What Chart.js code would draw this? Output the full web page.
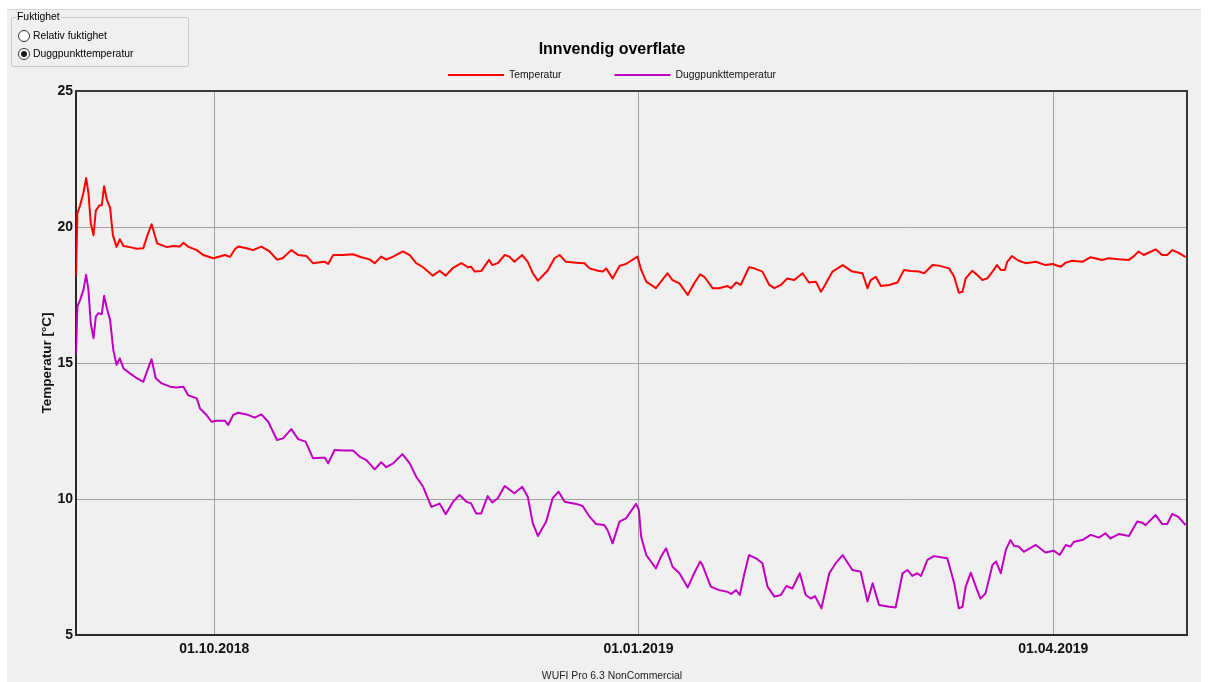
<!DOCTYPE html>
<html>
<head>
<meta charset="utf-8">
<title>Innvendig overflate</title>
<script src="https://cdn.jsdelivr.net/npm/chart.js@4.4.1/dist/chart.umd.min.js"></script>
<style>
  html, body { margin: 0; padding: 0; width: 1209px; height: 682px; overflow: hidden; background: #ffffff;
    font-family: "Liberation Sans", Arial, sans-serif; }
  #form { position: absolute; left: 7px; top: 9px; width: 1194px; height: 673px; background: #f0f0f0;
    border-top: 1px solid #d4d4d4; box-sizing: border-box; }
  #chart { position: absolute; left: 0; top: 0; }
  .group { position: absolute; left: 11px; top: 17px; width: 178px; height: 50px; box-sizing: border-box;
    border: 1px solid #c6c6c6; border-radius: 2px; }
  .caption { position: absolute; left: 16px; top: 11px; padding: 0 1px; background: #f0f0f0;
    font-size: 10.4px; line-height: 12px; color: #000; }
  .radio { position: absolute; left: 18px; width: 12px; height: 12px; box-sizing: border-box;
    border: 1px solid #333; border-radius: 50%; background: #fff; }
  .radio.on::after { content: ""; position: absolute; left: 2px; top: 2px; width: 6px; height: 6px;
    border-radius: 50%; background: #1a1a1a; }
  .rlabel { position: absolute; left: 33px; font-size: 10.4px; line-height: 12px; color: #000; }
  .footer { position: absolute; left: 412px; top: 670px; width: 400px; text-align: center;
    font-size: 10.4px; line-height: 12px; color: #222; }
</style>
</head>
<body>
<div id="form"></div>
<canvas id="chart" width="1209" height="682"></canvas>

<div class="group"></div>
<div class="caption">Fuktighet</div>
<div class="radio" style="top:30px"></div>
<div class="rlabel" style="top:30px">Relativ fuktighet</div>
<div class="radio on" style="top:48px"></div>
<div class="rlabel" style="top:48px">Duggpunkttemperatur</div>
<div class="footer">WUFI Pro 6.3 NonCommercial</div>

<script>
// Days counted from 01.09.2018
const tickDays = [30, 122, 212];
const tickLabels = ['01.10.2018', '01.01.2019', '01.04.2019'];
const yTicks = [5, 10, 15, 20, 25];
const seriesNames = ['Temperatur', 'Duggpunkttemperatur'];
const seriesColors = ['#ff0000', '#c000c0'];

const tempDays = [
  0, 0.3, 0.9, 1.6, 2.2, 2.7, 3.2, 3.8, 4.3, 5.1,
  5.6, 6.1, 6.7, 7.4, 8.0, 8.8, 9.5, 10.3, 11.7, 13.2,
  14.6, 15.5, 16.4, 17.1, 17.6, 19.7, 21.1, 22.5, 23.3, 24.3,
  26.2, 27.6, 29.8, 32.3, 33.4, 34.5, 35.2, 37.0, 38.4, 40.2,
  42.0, 43.6, 44.8, 46.7, 48.2, 50.0, 51.4, 52.9, 54.0, 54.7,
  55.8, 57.9, 60.1, 61.9, 63.7, 64.8, 66.2, 67.3, 68.8, 70.9,
  72.4, 73.8, 75.3, 77.4, 78.9, 80.2, 81.8, 83.6, 85.0, 85.7,
  86.5, 87.9, 89.6, 90.3, 91.5, 93.0, 94.0, 95.1, 96.8, 98.0,
  99.1, 100.2, 102.3, 103.8, 104.9, 106.3, 108.5, 110.3, 111.4, 113.2,
  114.3, 115.0, 116.4, 117.9, 119.3, 121.8, 122.6, 123.7, 125.8, 126.9,
  128.3, 129.4, 130.9, 132.7, 134.1, 135.4, 136.3, 138.1, 139.5, 141.3,
  142.1, 143.2, 144.2, 146.0, 147.1, 148.9, 150.4, 151.5, 152.9, 154.3,
  155.8, 157.6, 159.0, 160.5, 161.6, 162.3, 164.1, 166.3, 168.4, 170.6,
  171.7, 172.4, 173.5, 174.6, 176.4, 178.2, 179.6, 181.1, 182.9, 184.0,
  185.8, 187.2, 189.4, 190.5, 191.5, 192.3, 193.0, 194.4, 195.5, 196.6,
  197.7, 198.8, 199.8, 200.6, 201.5, 202.0, 203.0, 204.5, 206.0, 208.2,
  210.3, 211.8, 213.6, 214.7, 216.1, 218.3, 220.1, 222.6, 224.0, 226.2,
  228.4, 229.5, 230.5, 231.6, 234.2, 235.6, 236.7, 237.8, 239.2, 240.7
];
const tempValues = [
  18.2, 20.5, 20.8, 21.25, 21.8, 21.25, 20.15, 19.7, 20.6, 20.8,
  20.8, 21.5, 21.0, 20.7, 19.7, 19.27, 19.55, 19.3, 19.26, 19.2,
  19.22, 19.7, 20.1, 19.7, 19.4, 19.26, 19.3, 19.28, 19.42, 19.28,
  19.15, 18.97, 18.85, 18.97, 18.9, 19.19, 19.28, 19.22, 19.15, 19.28,
  19.1, 18.8, 18.85, 19.15, 18.97, 18.93, 18.67, 18.7, 18.72, 18.64,
  18.97, 18.97, 19.0, 18.89, 18.81, 18.67, 18.91, 18.8, 18.91, 19.1,
  18.97, 18.67, 18.52, 18.21, 18.39, 18.21, 18.5, 18.67, 18.52, 18.54,
  18.36, 18.38, 18.79, 18.6, 18.67, 18.97, 18.91, 18.72, 18.97, 18.72,
  18.3, 18.03, 18.39, 18.85, 18.97, 18.72, 18.69, 18.67, 18.48, 18.39,
  18.36, 18.48, 18.11, 18.57, 18.64, 18.91, 18.42, 17.99, 17.75, 17.99,
  18.3, 18.05, 17.93, 17.5, 17.93, 18.26, 18.17, 17.75, 17.75, 17.83,
  17.75, 17.96, 17.87, 18.52, 18.48, 18.36, 17.87, 17.75, 17.87, 18.11,
  18.05, 18.3, 17.96, 17.99, 17.62, 17.81, 18.36, 18.6, 18.36, 18.3,
  17.75, 18.05, 18.17, 17.83, 17.87, 17.96, 18.42, 18.38, 18.36, 18.3,
  18.6, 18.58, 18.48, 18.17, 17.58, 17.62, 18.11, 18.39, 18.24, 18.05,
  18.11, 18.36, 18.6, 18.42, 18.42, 18.72, 18.93, 18.76, 18.67, 18.72,
  18.6, 18.64, 18.54, 18.69, 18.76, 18.72, 18.89, 18.79, 18.85, 18.81,
  18.79, 18.93, 19.1, 18.97, 19.18, 18.97, 18.97, 19.15, 19.05, 18.89
];

const dewDays = [
  0, 0.3, 0.9, 1.6, 2.2, 2.7, 3.2, 3.8, 4.3, 4.8,
  5.6, 6.1, 6.7, 7.4, 8.1, 8.8, 9.5, 10.3, 11.7, 13.2,
  14.6, 15.5, 16.4, 17.3, 18.6, 20.4, 21.8, 23.3, 24.3, 26.2,
  26.9, 28.3, 29.4, 30.5, 32.3, 33.0, 34.1, 35.2, 37.0, 38.8,
  40.2, 41.7, 43.6, 44.9, 46.7, 48.2, 49.8, 51.4, 53.2, 54.0,
  54.7, 56.1, 57.9, 60.1, 61.5, 63.0, 64.8, 66.2, 67.3, 68.8,
  70.8, 72.4, 73.8, 75.3, 77.1, 78.9, 80.2, 81.8, 83.2, 84.7,
  85.7, 86.8, 87.9, 89.3, 90.3, 91.5, 93.0, 95.1, 96.8, 98.0,
  99.1, 100.2, 102.0, 103.4, 104.7, 106.0, 108.5, 109.9, 111.4, 112.8,
  114.6, 115.3, 116.4, 117.9, 119.3, 121.5, 122.1, 122.6, 123.7, 125.8,
  126.9, 128.0, 129.4, 130.9, 132.7, 134.1, 135.4, 135.9, 137.7, 139.5,
  141.3, 142.1, 143.2, 144.0, 145.0, 146.0, 147.5, 148.9, 150.0, 151.5,
  152.9, 154.1, 155.4, 157.0, 158.3, 159.4, 160.3, 161.7, 163.4, 164.8,
  166.3, 168.4, 170.2, 171.7, 172.8, 174.2, 176.4, 177.8, 179.3, 180.4,
  181.4, 182.5, 183.3, 184.7, 186.1, 189.0, 190.5, 191.5, 192.3, 193.0,
  194.1, 195.2, 196.2, 197.3, 198.8, 199.6, 200.6, 201.7, 202.7, 203.5,
  204.5, 205.6, 208.2, 210.3, 212.1, 213.4, 214.7, 215.7, 216.5, 218.3,
  220.1, 221.9, 223.3, 224.4, 226.2, 228.4, 230.2, 231.3, 232.0, 234.2,
  235.6, 236.7, 237.8, 239.2, 240.7
];
const dewValues = [
  15.3, 17.07, 17.32, 17.68, 18.24, 17.68, 16.46, 15.91, 16.7, 16.83,
  16.8, 17.47, 17.01, 16.58, 15.48, 14.93, 15.17, 14.8, 14.62, 14.44,
  14.31, 14.74, 15.14, 14.44, 14.25, 14.13, 14.1, 14.13, 13.82, 13.7,
  13.33, 13.09, 12.84, 12.88, 12.88, 12.72, 13.09, 13.17, 13.11, 12.99,
  13.11, 12.84, 12.17, 12.23, 12.57, 12.2, 12.11, 11.5, 11.52, 11.52,
  11.31, 11.8, 11.78, 11.78, 11.56, 11.43, 11.09, 11.35, 11.17, 11.31,
  11.65, 11.31, 10.82, 10.45, 9.71, 9.83, 9.44, 9.9, 10.15, 9.9,
  9.84, 9.47, 9.47, 10.11, 9.87, 10.03, 10.48, 10.21, 10.45, 10.08,
  9.1, 8.64, 9.17, 10.03, 10.27, 9.9, 9.82, 9.74, 9.35, 9.08,
  9.04, 8.86, 8.37, 9.17, 9.29, 9.82, 9.6, 8.61, 7.94, 7.45,
  7.88, 8.19, 7.51, 7.27, 6.75, 7.27, 7.7, 7.57, 6.78, 6.65,
  6.59, 6.51, 6.65, 6.47, 7.27, 7.94, 7.82, 7.64, 6.78, 6.41,
  6.47, 6.8, 6.71, 7.27, 6.47, 6.34, 6.43, 5.98, 7.27, 7.64,
  7.94, 7.39, 7.33, 6.23, 6.9, 6.1, 6.04, 6.01, 7.27, 7.39,
  7.17, 7.27, 7.17, 7.76, 7.9, 7.82, 6.9, 5.98, 6.04, 6.78,
  7.29, 6.78, 6.34, 6.53, 7.57, 7.7, 7.27, 8.13, 8.49, 8.27,
  8.25, 8.06, 8.31, 8.03, 8.1, 7.94, 8.31, 8.25, 8.43, 8.49,
  8.68, 8.58, 8.74, 8.55, 8.71, 8.64, 9.17, 9.13, 9.04, 9.41,
  9.08, 9.08, 9.45, 9.33, 9.04
];

const FONT = '"Liberation Sans", Arial, sans-serif';
Chart.defaults.font.family = FONT;

const toPoints = (days, values) => days.map((d, i) => ({ x: d, y: values[i] }));

// Upper and right edges of the plot frame (left/bottom come from the axis borders)
const plotFrame = {
  id: 'plotFrame',
  beforeDatasetsDraw(chart) {
    const { ctx, chartArea: a } = chart;
    ctx.save();
    ctx.strokeStyle = '#3a3a3a';
    ctx.lineWidth = 2;
    ctx.beginPath();
    ctx.moveTo(a.left, a.top);
    ctx.lineTo(a.right, a.top);
    ctx.lineTo(a.right, a.bottom);
    ctx.stroke();
    ctx.restore();
  }
};

// Line-sample legend under the title
const lineLegend = {
  id: 'lineLegend',
  afterDraw(chart) {
    const { ctx } = chart;
    const tb = chart.titleBlock;
    const cx = tb.left + tb.width / 2;
    const lineLen = 56, textGap = 5, itemGap = 53, y = 75;
    ctx.save();
    ctx.font = '10.4px ' + FONT;
    const items = chart.data.datasets.map(ds => ({
      label: ds.label, color: ds.borderColor, w: ctx.measureText(ds.label).width
    }));
    const total = items.reduce((s, it) => s + lineLen + textGap + it.w, 0) + itemGap * (items.length - 1);
    let x = cx - total / 2;
    items.forEach(it => {
      ctx.strokeStyle = it.color;
      ctx.lineWidth = 2;
      ctx.beginPath();
      ctx.moveTo(x, y);
      ctx.lineTo(x + lineLen, y);
      ctx.stroke();
      ctx.fillStyle = '#111';
      ctx.textBaseline = 'middle';
      ctx.textAlign = 'left';
      ctx.fillText(it.label, x + lineLen + textGap, y + 0.5);
      x += lineLen + textGap + it.w + itemGap;
    });
    ctx.restore();
  }
};

new Chart(document.getElementById('chart'), {
  type: 'line',
  data: {
    datasets: [
      { label: seriesNames[0], data: toPoints(tempDays, tempValues), borderColor: seriesColors[0],
        backgroundColor: seriesColors[0] },
      { label: seriesNames[1], data: toPoints(dewDays, dewValues), borderColor: seriesColors[1],
        backgroundColor: seriesColors[1] }
    ]
  },
  options: {
    responsive: false,
    animation: false,
    events: [],
    elements: {
      line: { borderWidth: 2, tension: 0, fill: false, borderJoinStyle: 'round' },
      point: { radius: 0 }
    },
    layout: { padding: { left: 37, right: 22, top: 0, bottom: 0 } },
    plugins: {
      legend: { display: false },
      tooltip: { enabled: false },
      title: {
        display: true,
        text: 'Innvendig overflate',
        color: '#000',
        font: { size: 16, weight: 'bold', family: FONT },
        padding: { top: 40.4, bottom: 31.4 }
      }
    },
    scales: {
      x: {
        type: 'linear',
        min: 0,
        max: 241,
        afterBuildTicks: s => { s.ticks = tickDays.map(v => ({ value: v })); },
        afterFit: s => { s.height = 47; },
        ticks: {
          autoSkip: false,
          maxRotation: 0,
          padding: 6,
          color: '#111',
          font: { size: 14, weight: 'bold', family: FONT },
          callback: v => { const i = tickDays.indexOf(v); return i >= 0 ? tickLabels[i] : ''; }
        },
        grid: { color: '#a0a0a0', lineWidth: 1, drawTicks: false },
        border: { color: '#2a2a2a', width: 2 }
      },
      y: {
        min: 5,
        max: 25,
        afterBuildTicks: s => { s.ticks = yTicks.map(v => ({ value: v })); },
        afterFit: s => { s.width = 39; },
        ticks: {
          padding: 3,
          color: '#111',
          font: { size: 14, weight: 'bold', family: FONT }
        },
        grid: { color: '#a0a0a0', lineWidth: 1, drawTicks: false },
        border: { color: '#2a2a2a', width: 2 },
        title: {
          display: true,
          text: 'Temperatur [°C]',
          color: '#111',
          font: { size: 13.5, weight: 'bold', family: FONT },
          padding: { top: 2, bottom: 0 }
        }
      }
    }
  },
  plugins: [plotFrame, lineLegend]
});
</script>
</body>
</html>
